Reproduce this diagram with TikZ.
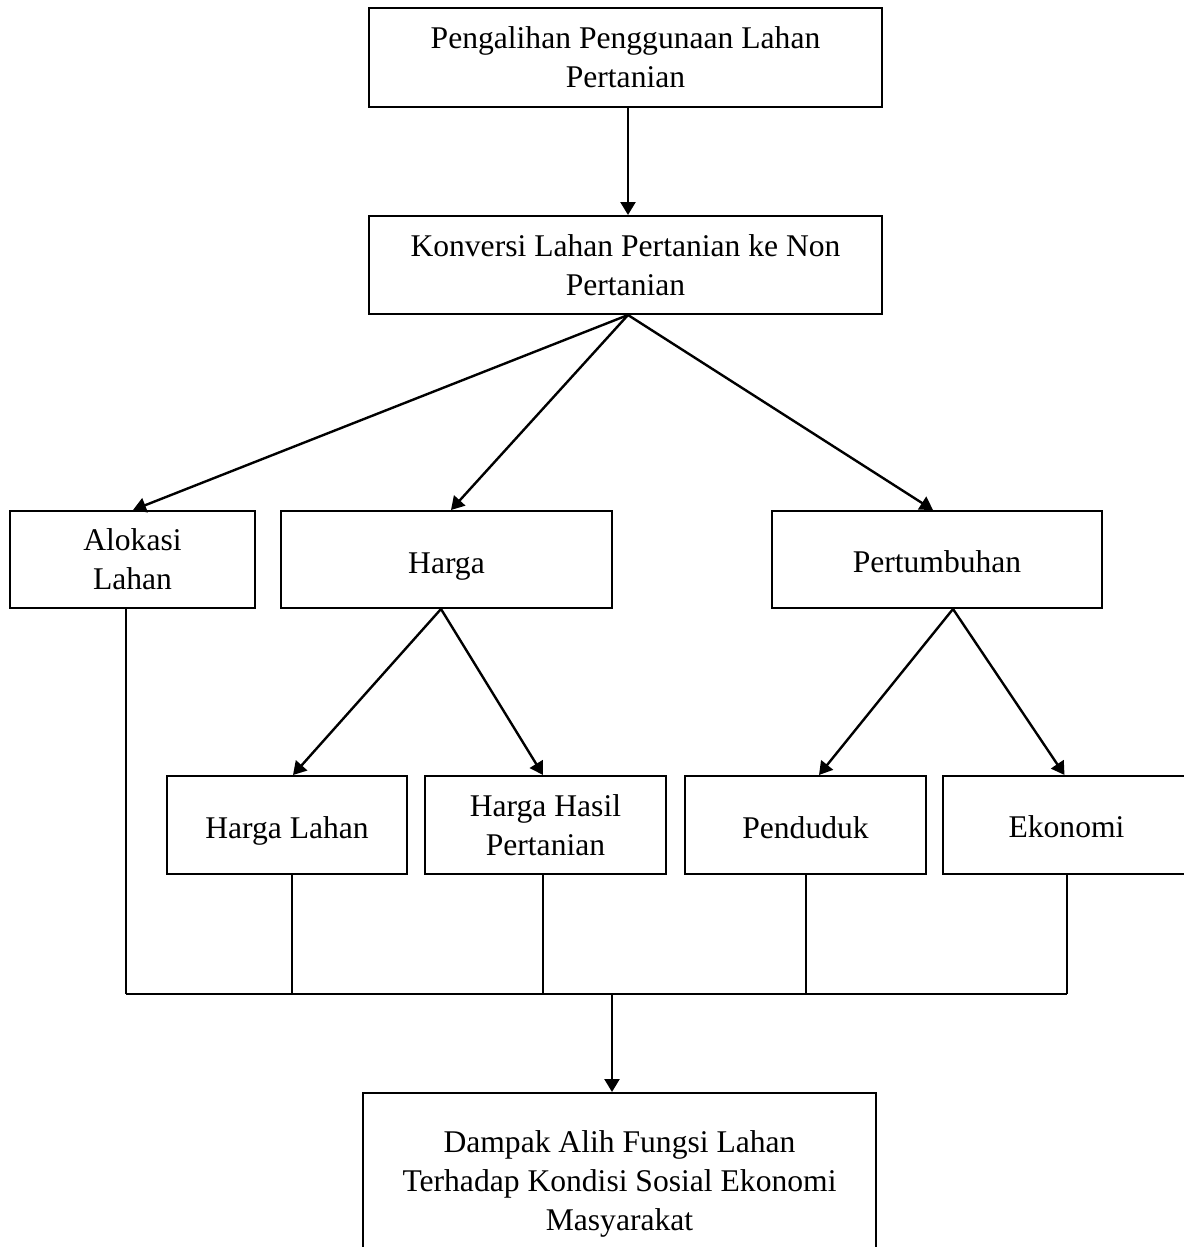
\documentclass[tikz,border=0pt]{standalone}
\usepackage{fontspec}
\setmainfont{Liberation Serif}
\usetikzlibrary{arrows.meta,calc}
\newcommand{\lowtext}[2]{\raisebox{-#1}[0pt][0pt]{#2}}
\begin{document}
\begin{tikzpicture}[x=0.5pt,y=-0.5pt,
  box/.style={draw,line width=1pt,rectangle,inner sep=0pt,align=center,
    font=\fontsize{15.8}{19.5}\selectfont},
  arr/.style={line width=1.2pt,-{Triangle[length=6.5pt,width=7.5pt]}},
  link/.style={line width=0.6pt},
  bus/.style={line width=0.9pt}]
\useasboundingbox (0,0) rectangle (1183,1247);
\fill[white] (0,0) rectangle (1183,1247);
\node[box,minimum width=256.5pt,minimum height=49.5pt] (top) at (625.5,57.5) {Pengalihan Penggunaan Lahan\\Pertanian};
\node[box,minimum width=256.5pt,minimum height=49pt] (konv) at (625.5,265) {Konversi Lahan Pertanian ke Non\\Pertanian};
\node[box,minimum width=122.5pt,minimum height=48.5pt] (alok) at (132.5,559.5) {Alokasi\\Lahan};
\node[box,minimum width=165.5pt,minimum height=48.5pt] (harga) at (446.5,559.5) {\lowtext{7pt}{Harga}};
\node[box,minimum width=165pt,minimum height=48.5pt] (tumb) at (937,559.5) {\lowtext{6.45pt}{Pertumbuhan}};
\node[box,minimum width=120pt,minimum height=49pt] (hl) at (287,825) {\lowtext{6.7pt}{Harga Lahan}};
\node[box,minimum width=120.5pt,minimum height=49pt] (hh) at (545.5,825) {Harga Hasil\\Pertanian};
\node[box,minimum width=120.5pt,minimum height=49pt] (pend) at (805.5,825) {\lowtext{6.7pt}{Penduduk}};
\node[box,minimum width=123.5pt,minimum height=49pt] (eko) at (1066.5,825) {\lowtext{6.2pt}{Ekonomi}};
\node[box,minimum width=256.5pt,minimum height=91pt] (damp) at (619.5,1184) {Dampak Alih Fungsi Lahan\\Terhadap Kondisi Sosial Ekonomi\\Masyarakat};
% arrows
\draw[arr] ([xshift=1.25pt]top.south) -- ([xshift=1.25pt]konv.north);
\draw[arr] ([xshift=1.25pt]konv.south) -- ([xshift=0.25pt]alok.north);
\draw[arr] ([xshift=1.25pt]konv.south) -- ([xshift=2.25pt]harga.north);
\draw[arr] ([xshift=1.25pt]konv.south) -- ([xshift=-2pt]tumb.north);
\draw[arr] ([xshift=-2.75pt]harga.south) -- ([xshift=3pt]hl.north);
\draw[arr] ([xshift=-2.75pt]harga.south) -- ([xshift=-1.25pt]hh.north);
\draw[arr] ([xshift=8pt]tumb.south) -- ([xshift=6.75pt]pend.north);
\draw[arr] ([xshift=8pt]tumb.south) -- ([xshift=-1pt]eko.north);
% bus
\coordinate (busy) at (0,994);
\draw[link] ([xshift=-3.25pt]alok.south) -- ([xshift=-3.25pt]alok.south |- busy);
\draw[bus] ([xshift=-3.25pt]alok.south |- busy) -- ([xshift=0.25pt]eko.south |- busy);
\draw[link] ([xshift=2.5pt]hl.south) -- ([xshift=2.5pt]hl.south |- busy);
\draw[link] ([xshift=-1.25pt]hh.south) -- ([xshift=-1.25pt]hh.south |- busy);
\draw[link] ([xshift=0.25pt]pend.south) -- ([xshift=0.25pt]pend.south |- busy);
\draw[link] ([xshift=0.25pt]eko.south) -- ([xshift=0.25pt]eko.south |- busy);
\draw[arr] ([xshift=-3.75pt]damp.north |- busy) -- ([xshift=-3.75pt]damp.north);
\end{tikzpicture}
\end{document}
